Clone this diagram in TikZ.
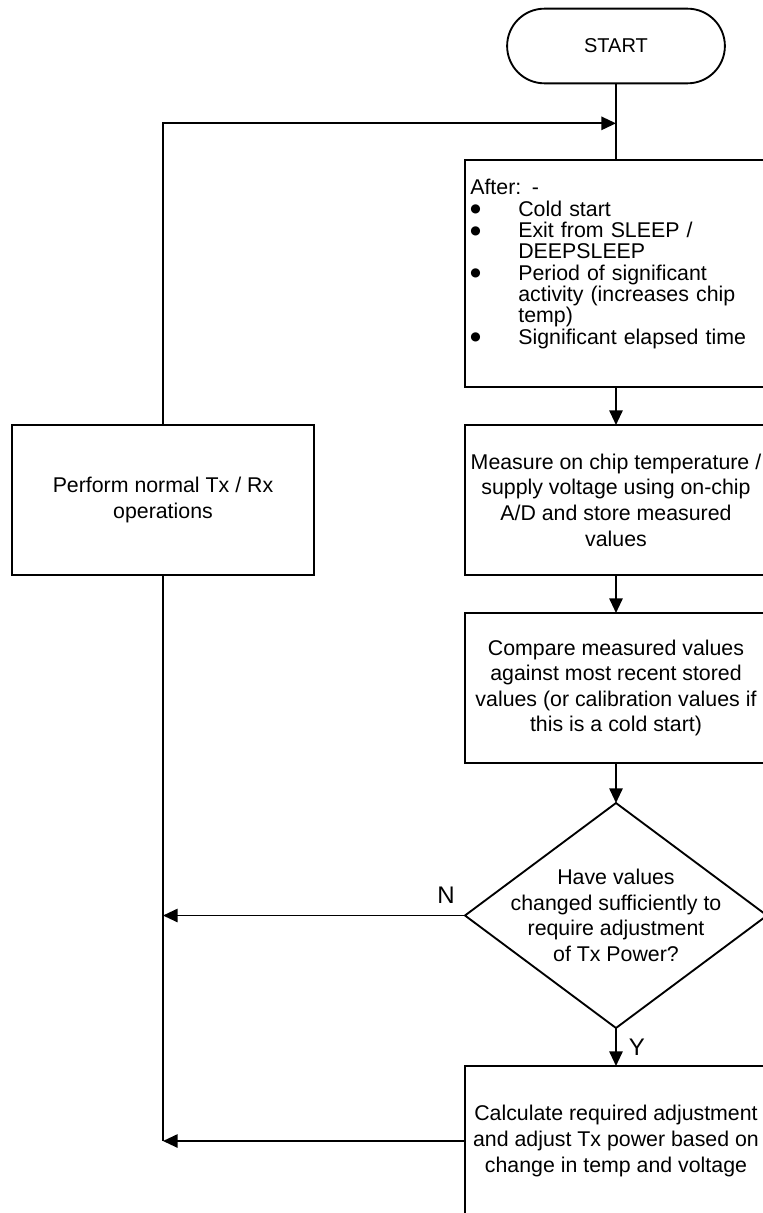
\documentclass[tikz,border=0pt]{standalone}
\usepackage{fontspec}
\setmainfont{Liberation Sans}
\newfontfamily\dotfont{DejaVu Sans}
\usetikzlibrary{arrows.meta,positioning,shapes.geometric,shapes.misc}

\newcommand{\bul}[1]{\makebox[36pt][l]{\raisebox{2.4pt}{\fontsize{9pt}{9pt}\dotfont ●}}#1}
\newcommand{\bcont}[1]{\hspace*{36pt}#1}

\tikzset{
  terminal/.style={draw, rounded rectangle, minimum width=170pt, minimum height=56pt,
    outer sep=0pt, font=\fontsize{15pt}{18pt}\selectfont},
  process/.style={draw, rectangle, minimum width=226.5pt, minimum height=112.5pt,
    align=center, inner sep=3pt, outer sep=0pt},
  decision/.style={draw, diamond, minimum width=226.5pt, minimum height=168.75pt,
    inner sep=0pt, outer sep=0pt, aspect=1.34},
  answer/.style={font=\fontsize{18pt}{20pt}\selectfont},
}

\begin{document}
\begin{tikzpicture}[node distance=28.5pt, line width=1.4pt,
    font=\fontsize{16pt}{19.2pt}\selectfont]
  \useasboundingbox (-462pt,34.5pt) rectangle (110.25pt,-875.25pt);

  \node (start) [terminal] {START};
  \coordinate [below=30pt of start] (join);
  \node (after) [process, below=57.75pt of start, minimum height=170pt,
    align=left, text width=218.5pt, inner xsep=4pt,
    font=\fontsize{16pt}{16pt}\selectfont]
    {After: -\\
     \bul{Cold start}\\
     \bul{Exit from SLEEP /}\\
     \bcont{DEEPSLEEP}\\
     \bul{Period of significant}\\
     \bcont{activity (increases chip}\\
     \bcont{temp)}\\
     \bul{Significant elapsed time}\rule[-18pt]{0pt}{1pt}};
  \node (meas) [process, below=of after]
    {Measure on chip temperature /\\supply voltage using on-chip\\A/D and store measured\\values};
  \node (cmp) [process, below=of meas]
    {Compare measured values\\against most recent stored\\values (or calibration values if\\this is a cold start)};
  \node (chk) [decision, below=30pt of cmp] {};
  \node (chktext) [align=center] at (chk) {Have values\\changed sufficiently to\\require adjustment\\of Tx Power?};
  \node (calc) [process, below=of chk]
    {Calculate required adjustment\\and adjust Tx power based on\\change in temp and voltage};

  \node (ops) [process, left=113.25pt of meas] {Perform normal Tx / Rx\\operations};
  \coordinate (nend) at (ops.south |- chk.west);
  \coordinate (cend) at (ops.south |- calc.west);

  \begin{scope}[every edge/.style={draw, -{Triangle[length=11pt,width=10pt]}}]
    \draw (start) -- (after);
    \path (after) edge (meas);
    \path (meas) edge (cmp);
    \path (cmp) edge (chk);
    \path (chk) edge node[answer, midway, right, inner sep=9pt] {Y} (calc);
    \path (chk.west) edge node[answer, pos=0, above left, inner xsep=7pt, inner ysep=8.5pt] {N} (nend);
    \path (calc.west) edge (cend);
    \draw (ops.south) -- (cend);
    \draw[-{Triangle[length=11pt,width=10pt]}] (ops.north) |- (join);
  \end{scope}
\end{tikzpicture}
\end{document}
